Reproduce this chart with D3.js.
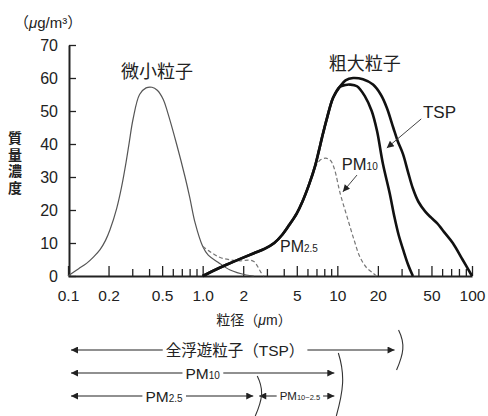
<!DOCTYPE html>
<html>
<head>
<meta charset="utf-8">
<script src="https://cdn.jsdelivr.net/npm/d3@7"></script>
<style>
  body { margin: 0; background: #fff; }
  svg text { font-family: "Liberation Sans", "Noto Sans CJK JP", sans-serif; fill: #222; }
  svg text.jp { font-family: "Noto Sans CJK JP", sans-serif; }
</style>
</head>
<body>
<svg width="488" height="416"></svg>
<script>
// particle diameter (um) vs mass concentration (ug/m3)
const fineCurve = [[0.1,0],[0.12,2.2],[0.138,3.9],[0.155,5.8],[0.173,8],[0.19,10.8],[0.205,14],[0.23,20.5],[0.25,27],[0.27,34.5],[0.285,40.5],[0.304,47.5],[0.34,55],[0.38,57],[0.42,57.2],[0.46,56.3],[0.51,53.5],[0.55,49.5],[0.64,40],[0.74,30],[0.8,24],[0.88,16],[1.0,9],[1.1,6.3],[1.3,4.2],[1.6,1.8],[2.1,0.3],[2.4,0]];
const pm25Curve = [[1.0,9],[1.15,7.2],[1.35,5.6],[1.6,4.9],[1.9,4.6],[2.2,4.8],[2.4,4.4],[2.55,3],[2.7,1.2],[2.85,0]];
const pm10Curve = [[6.8,33],[7.5,35.2],[8.2,35.7],[8.9,35],[9.5,32.5],[10.5,25],[11.8,18],[13.3,11],[14.7,5.8],[16.5,2.5],[18.3,1],[19.5,0]];
const coarseRise = [[1.0,0],[1.2,1.6],[1.5,3.4],[1.9,5.2],[2.4,6.9],[2.9,8.3],[3.4,10],[3.9,12.5],[4.4,15.5],[5.0,19],[5.5,22.5],[6.2,28],[6.8,33],[7.3,38],[7.7,42],[8.4,48],[9.3,54],[10.4,57.3]];
const tspFall = [[11.5,59.3],[13.1,60],[15.5,59.6],[18.4,58],[21,55],[23.3,51],[26,45],[28,41],[30.7,37],[33.5,31.5],[36.4,26.5],[40,22.5],[45,19.5],[50,17.6],[55,16],[63,13],[72,10],[85,5],[100,0]];
const coarseFall = [[11.5,57.9],[12.4,58],[14,57.5],[16,54.5],[18,50],[19.7,44],[21.8,34],[24.5,25],[26.5,18],[28.5,12.5],[30.8,8],[33.5,3.5],[36.4,0]];

const xTickValues = [0.1,0.2,0.5,1,2,5,10,20,50,100];
const xTickLabels = ["0.1","0.2","0.5","1.0","2","5","10","20","50","100"];
const yTickValues = [0,10,20,30,40,50,60,70];

// size ranges under the axis
const rangeMain = ["全浮遊粒子（TSP）","PM","PM","PM"];
const rangeSub = ["","10","2.5","10~2.5"];
const rangeFrom = [0.1,0.1,0.1,2.5];
const rangeTo = [28,10,2.5,10];
const rangeLabelAt = [1.74,1.0,0.516,5.27];
const rangeRow = [0,1,2,2];
const braceAt = [28,10,2.5];
const braceRows = [[0,0],[1,2],[2,2]];

const svg = d3.select("svg");
const x = d3.scaleLog().domain([0.1, 100]).range([68, 472]);
const y = d3.scaleLinear().domain([0, 70]).range([276, 45]);

svg.append("defs").append("marker")
  .attr("id", "head")
  .attr("viewBox", "0 0 10 10")
  .attr("refX", 10).attr("refY", 5)
  .attr("markerWidth", 9).attr("markerHeight", 7)
  .attr("markerUnits", "userSpaceOnUse")
  .attr("orient", "auto-start-reverse")
  .append("path").attr("d", "M0,0L10,5L0,10z").attr("fill", "#222");

// axes
const minor = x.ticks().filter(t => !xTickValues.includes(t));
svg.append("g")
  .attr("transform", `translate(0,${y(0)})`)
  .call(d3.axisBottom(x).tickValues(minor).tickSize(-7).tickFormat(""))
  .call(g => g.select(".domain").remove())
  .selectAll("line").attr("stroke", "#222").attr("stroke-width", 1.3);

const gx = svg.append("g")
  .attr("transform", `translate(0,${y(0)})`)
  .call(d3.axisBottom(x).tickValues(xTickValues).tickSize(-10).tickSizeOuter(0)
    .tickPadding(14).tickFormat((d, i) => xTickLabels[i]));
gx.select(".domain").attr("stroke", "#222").attr("stroke-width", 2);
gx.selectAll("line").attr("stroke", "#222").attr("stroke-width", 1.3);
gx.selectAll("text").attr("font-size", 15.5).attr("fill", "#222");

const gy = svg.append("g")
  .attr("transform", `translate(${x(0.1) + 1},0)`)
  .call(d3.axisLeft(y).tickValues(yTickValues).tickSize(-7).tickSizeOuter(0).tickPadding(11));
gy.select(".domain").attr("stroke", "#222").attr("stroke-width", 2);
gy.selectAll("line").attr("stroke", "#222").attr("stroke-width", 1.3);
gy.selectAll("text").attr("font-size", 16).attr("fill", "#222");

// curves
const line = d3.line().x(d => x(d[0])).y(d => y(d[1])).curve(d3.curveCatmullRom.alpha(0.5));
const plot = svg.append("g").attr("fill", "none");
plot.append("path").attr("d", line(fineCurve)).attr("stroke", "#555").attr("stroke-width", 1.2);
plot.append("path").attr("d", line(pm25Curve)).attr("stroke", "#777").attr("stroke-width", 1.2).attr("stroke-dasharray", "4,2.5");
plot.append("path").attr("d", line(pm10Curve)).attr("stroke", "#777").attr("stroke-width", 1.2).attr("stroke-dasharray", "4,2.5");
plot.append("path").attr("d", line(coarseRise.concat(coarseFall))).attr("stroke", "#111").attr("stroke-width", 2.6);
plot.append("path").attr("d", line(coarseRise.concat(tspFall))).attr("stroke", "#111").attr("stroke-width", 2.6);

// labels in the plot
svg.append("text").attr("x", 14).attr("y", 28).attr("font-size", 15)
  .html('（<tspan font-style="italic">μ</tspan>g/m³）');
svg.append("text").attr("class", "jp").attr("x", x(0.458)).attr("y", y(60)).attr("text-anchor", "middle")
  .attr("font-size", 18).text("微小粒子");
svg.append("text").attr("class", "jp").attr("x", x(16)).attr("y", y(62.4)).attr("text-anchor", "middle")
  .attr("font-size", 18).text("粗大粒子");
svg.append("text").attr("x", x(43.2)).attr("y", y(48)).attr("font-size", 17).text("TSP");
svg.append("text").attr("x", x(10.8)).attr("y", y(32)).attr("font-size", 16.5)
  .html('PM<tspan font-size="10">10</tspan>');
svg.append("text").attr("x", x(3.75)).attr("y", y(7.3)).attr("font-size", 16)
  .html('PM<tspan font-size="10">2.5</tspan>');

svg.append("line").attr("x1", x(42)).attr("y1", y(47.6)).attr("x2", x(23.3)).attr("y2", y(38.8))
  .attr("stroke", "#444").attr("stroke-width", 1).attr("marker-end", "url(#head)");
svg.append("line").attr("x1", x(14)).attr("y1", y(30.6)).attr("x2", x(11)).attr("y2", y(25.5))
  .attr("stroke", "#444").attr("stroke-width", 1).attr("marker-end", "url(#head)");

// vertical y title
svg.append("text").attr("class", "jp").attr("x", 15).attr("y", 131)
  .attr("font-size", 14).attr("font-weight", 700)
  .style("writing-mode", "vertical-rl").style("letter-spacing", "2.5px")
  .text("質量濃度");

svg.append("text").attr("x", 254).attr("y", 325).attr("text-anchor", "middle").attr("font-size", 14)
  .html('粒径（<tspan font-style="italic">μ</tspan>m）');

// size range arrows
const rowY = r => 350 + r * 23;
rangeMain.forEach((m, i) => {
  const ry = rowY(rangeRow[i]);
  const small = i === 3;
  svg.append("line")
    .attr("x1", x(rangeFrom[i]) + 3).attr("x2", x(rangeTo[i]) - 3)
    .attr("y1", ry).attr("y2", ry)
    .attr("stroke", "#222").attr("stroke-width", 1.1)
    .attr("marker-start", "url(#head)").attr("marker-end", "url(#head)");
  const t = svg.append("text")
    .attr("x", x(rangeLabelAt[i])).attr("y", ry + (small ? 4 : 5.5))
    .attr("text-anchor", "middle").attr("font-size", small ? 11.5 : 15.5)
    .text(m);
  if (rangeSub[i]) t.append("tspan").attr("font-size", small ? 7.5 : 10).text(rangeSub[i]);
  const b = t.node().getBBox();
  svg.insert("rect", () => t.node())
    .attr("x", b.x - 3).attr("y", ry - 3).attr("width", b.width + 6).attr("height", 6)
    .attr("fill", "#fff");
});

braceAt.forEach((v, i) => {
  const bx = x(v) + 1;
  const top = rowY(braceRows[i][0]) - 20;
  const bot = Math.min(rowY(braceRows[i][1]) + 20, 418);
  const h = bot - top;
  svg.append("path")
    .attr("d", `M${bx},${top}C${bx + 7},${top + h * 0.35} ${bx + 5},${top + h * 0.6} ${bx - 2},${bot}`)
    .attr("fill", "none").attr("stroke", "#333").attr("stroke-width", 1.1);
});
</script>
</body>
</html>
